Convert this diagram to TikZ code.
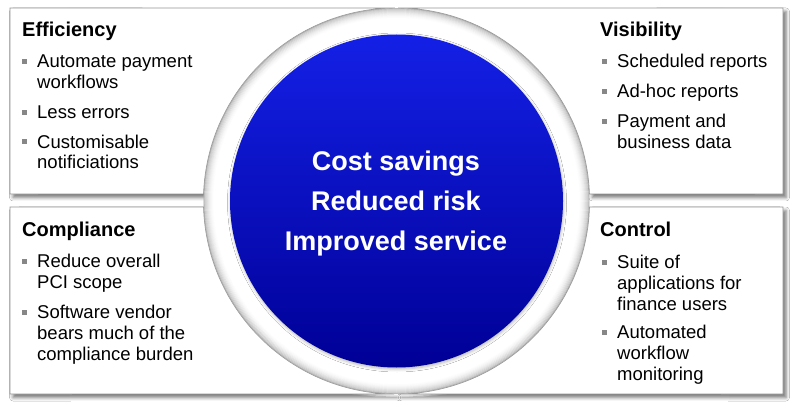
\documentclass[tikz,border=0pt]{standalone}
\usepackage{fontspec}
\setmainfont{Liberation Sans}
\usetikzlibrary{calc,shadows.blur}
\definecolor{blueTop}{RGB}{20,32,230}
\definecolor{blueBot}{RGB}{0,0,150}
\definecolor{boxLine}{RGB}{150,150,150}
\definecolor{bulGray}{RGB}{135,135,135}
\newcommand\itemline[4]{\node[itemtext] (#1) at (#2,#3) {#4};}
\newcommand\bulsq[3]{\node[bulletsq] (#1) at (#2,#3) {};}
\begin{document}
\begin{tikzpicture}[x=1pt,y=1pt,
  quadbox/.style={fill=white, draw=boxLine, line width=0.8pt,
    blur shadow={shadow xshift=3pt, shadow yshift=-3.5pt, shadow blur radius=3.5pt, shadow opacity=55}},
  titletext/.style={font=\fontsize{20}{24}\selectfont\bfseries, anchor=base west, inner sep=0pt, text=black},
  itemtext/.style={font=\fontsize{18.5}{21}\selectfont, anchor=base west, inner sep=0pt, text=black},
  bulletsq/.style={fill=bulGray, minimum size=5pt, inner sep=0pt, draw=none},
  centertext/.style={font=\fontsize{27}{30}\selectfont\bfseries, anchor=base, inner sep=0pt, text=white}]
\useasboundingbox (0,0) rectangle (800,413);
\fill[white] (0,0) rectangle (800,413);
\coordinate (C) at (396.5,212);
% quadrant boxes
\path[quadbox] (10,405) -- ($(C)+(90.45:193)$) arc[start angle=90.45, end angle=177.92, radius=193] -- (10,219) -- cycle;
\path[quadbox] (783,405) -- ($(C)+(89.55:193)$) arc[start angle=89.55, end angle=2.08, radius=193] -- (783,219) -- cycle;
\path[quadbox] (10,206) -- ($(C)+(181.78:193)$) arc[start angle=181.78, end angle=269.3, radius=193] -- (10,19) -- cycle;
\path[quadbox] (783,206) -- ($(C)+(-1.78:193)$) arc[start angle=-1.78, end angle=-89.3, radius=193] -- (783,19) -- cycle;
% ring inner shadow
\begin{scope}
  \clip (C) circle[radius=192.6];
  \fill[white] (C) circle[radius=192.6];
  \foreach \i [evaluate=\i as \op using {0.20*(1-\i/11)^2}] in {0,...,10}
    \draw[line width=1.2pt, black, opacity=\op] (C) circle[radius=192.6-\i*1.0];
\end{scope}
\draw[boxLine!80, line width=0.6pt] (C) circle[radius=192.6];
% blue centre
\shade[top color=blueTop, bottom color=blueBot,
  blur shadow={shadow xshift=0.5pt, shadow yshift=-1.5pt, shadow blur radius=3pt, shadow opacity=30}]
  (C) circle[radius=166.5];
\node (core) at (C) [circle, minimum size=333pt, inner sep=0pt] {};
\node[centertext] (c1) at (396,243) {Cost savings};
\node[centertext] (c2) at (396,203) {Reduced risk};
\node[centertext] (c3) at (396,163) {Improved service};
% Efficiency
\node[titletext] (effT) at (22,376) {Efficiency};
\bulsq{eb1}{24.5}{351}
\itemline{e1}{37}{345}{Automate payment}
\itemline{e2}{37}{324}{workflows}
\bulsq{eb2}{24.5}{300}
\itemline{e3}{37}{294}{Less errors}
\bulsq{eb3}{24.5}{271}
\itemline{e4}{37}{265}{Customisable}
\itemline{e5}{37}{244}{notificiations}
% Visibility
\node[titletext] (visT) at (600,376) {Visibility};
\bulsq{vb1}{604.5}{351}
\itemline{v1}{617}{345}{Scheduled reports}
\bulsq{vb2}{604.5}{321}
\itemline{v2}{617}{315}{Ad-hoc reports}
\bulsq{vb3}{604.5}{291}
\itemline{v3}{617}{285}{Payment and}
\itemline{v4}{617}{264}{business data}
% Compliance
\node[titletext] (comT) at (22,177) {Compliance};
\bulsq{cb1}{24.5}{152}
\itemline{m1}{37}{146}{Reduce overall}
\itemline{m2}{37}{125}{PCI scope}
\bulsq{cb2}{24.5}{101}
\itemline{m3}{37}{95}{Software vendor}
\itemline{m4}{37}{74}{bears much of the}
\itemline{m5}{37}{53}{compliance burden}
% Control
\node[titletext] (ctlT) at (600,177) {Control};
\bulsq{kb1}{604.5}{151}
\itemline{k1}{617}{145}{Suite of}
\itemline{k2}{617}{124}{applications for}
\itemline{k3}{617}{103}{finance users}
\bulsq{kb2}{604.5}{81}
\itemline{k4}{617}{75}{Automated}
\itemline{k5}{617}{54}{workflow}
\itemline{k6}{617}{33}{monitoring}
\end{tikzpicture}
\end{document}
